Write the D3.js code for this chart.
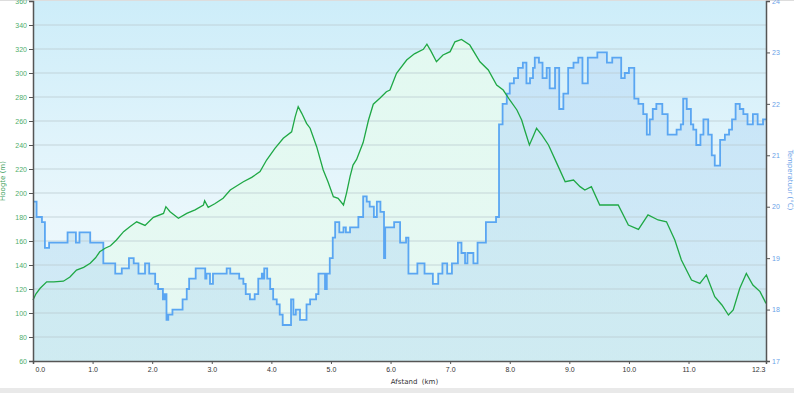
<!DOCTYPE html>
<html>
<head>
<meta charset="utf-8">
<script src="https://cdn.jsdelivr.net/npm/d3@7"></script>
<style>
  body { margin: 0; background: #ffffff; }
  svg { display: block; font-family: "DejaVu Sans", Verdana, sans-serif; }
</style>
</head>
<body>
<svg id="chart"></svg>
<script>
// afstand (km) en hoogte (m)
var elevKm = [0.0, 0.05, 0.12, 0.23, 0.35, 0.51, 0.62, 0.73, 0.85, 0.96, 1.05, 1.12, 1.21, 1.30, 1.40, 1.52, 1.63, 1.74, 1.88, 2.02,
  2.19, 2.23, 2.30, 2.44, 2.58, 2.72, 2.86, 2.88, 2.94, 3.05, 3.19, 3.31, 3.53, 3.67, 3.81, 3.92, 4.06, 4.20, 4.34, 4.40,
  4.45, 4.51, 4.59, 4.65, 4.76, 4.87, 4.95, 5.04, 5.12, 5.21, 5.26, 5.32, 5.37, 5.43, 5.54, 5.63, 5.71, 5.82, 5.93, 5.99,
  6.10, 6.27, 6.40, 6.55, 6.61, 6.68, 6.77, 6.88, 7.00, 7.08, 7.19, 7.33, 7.50, 7.64, 7.78, 7.89, 8.00, 8.12, 8.20, 8.26,
  8.33, 8.39, 8.45, 8.54, 8.65, 8.79, 8.93, 9.07, 9.18, 9.26, 9.37, 9.51, 9.65, 9.82, 9.99, 10.16, 10.32, 10.49, 10.63, 10.77,
  10.88, 11.05, 11.19, 11.30, 11.44, 11.56, 11.67, 11.75, 11.86, 11.97, 12.08, 12.20, 12.30]
var elevM = [110.8, 116, 120.6, 126, 126, 126.5, 130, 135.8, 138, 141.4, 146, 151, 154, 156, 160.8, 167.8, 172, 176, 173, 179.7,
  183, 188.6, 184.4, 178.9, 183, 186, 190, 193.6, 188, 191, 195.6, 202.5, 209.4, 213, 217.8, 227.5, 237.2, 245.6, 251, 263.6,
  272, 266.4, 258, 254, 238.6, 219.2, 209.4, 196.9, 195.6, 190, 199.7, 213.6, 223.3, 228, 242, 260.8, 274, 278.9, 284.4, 285.8,
  299.7, 310.8, 316, 319.7, 324, 318, 309.4, 315, 317.8, 326, 328, 323.3, 309.4, 302.5, 290, 285.8, 277.5, 269.2, 260.8, 251,
  240, 246.9, 253.9, 248.3, 240, 224.7, 209.4, 210.8, 205.3, 202.5, 205.3, 190, 190, 190, 173.3, 169.7, 181.7, 177.5, 176, 160.8,
  144.2, 127.5, 124.7, 131.7, 113.6, 106.7, 98.3, 102.5, 120.6, 133, 123.3, 117.8, 108]

// afstand (km) en temperatuur (°C), trapsgewijs
var tempKm = [0.00, 0.06, 0.15, 0.20, 0.27, 0.58, 0.72, 0.78, 0.96, 1.18, 1.38, 1.49, 1.61, 1.69, 1.77, 1.88, 1.95, 2.05, 2.10, 2.18,
  2.21, 2.24, 2.27, 2.34, 2.51, 2.58, 2.62, 2.73, 2.89, 2.91, 2.97, 3.02, 3.25, 3.31, 3.46, 3.53, 3.57, 3.64, 3.72, 3.78,
  3.84, 3.87, 3.88, 3.93, 3.98, 4.03, 4.09, 4.14, 4.19, 4.33, 4.37, 4.41, 4.48, 4.59, 4.65, 4.75, 4.79, 4.90, 4.93, 4.98,
  5.03, 5.07, 5.14, 5.21, 5.25, 5.32, 5.46, 5.54, 5.60, 5.65, 5.72, 5.77, 5.83, 5.89, 5.91, 6.06, 6.16, 6.26, 6.30, 6.45,
  6.57, 6.71, 6.80, 6.87, 6.95, 7.03, 7.13, 7.19, 7.25, 7.29, 7.39, 7.46, 7.60, 7.77, 7.82, 7.88, 7.95, 8.00, 8.07, 8.14,
  8.22, 8.28, 8.34, 8.39, 8.42, 8.49, 8.55, 8.62, 8.67, 8.76, 8.83, 8.90, 8.98, 9.07, 9.15, 9.22, 9.31, 9.47, 9.63, 9.72,
  9.87, 9.93, 10.00, 10.09, 10.16, 10.24, 10.30, 10.35, 10.40, 10.46, 10.56, 10.65, 10.80, 10.87, 10.91, 10.97, 11.04, 11.08, 11.13, 11.20,
  11.25, 11.33, 11.39, 11.44, 11.53, 11.61, 11.68, 11.73, 11.79, 11.86, 11.92, 11.99, 12.08, 12.16, 12.25, 12.30]
var tempC = [20.1, 19.8, 19.7, 19.2, 19.3, 19.5, 19.3, 19.5, 19.3, 18.9, 18.7, 18.8, 19.0, 18.9, 18.7, 18.9, 18.7, 18.5, 18.4, 18.2,
  18.3, 17.8, 17.9, 18.0, 18.2, 18.4, 18.6, 18.8, 18.6, 18.7, 18.5, 18.7, 18.8, 18.7, 18.6, 18.5, 18.3, 18.2, 18.3, 18.6,
  18.7, 18.6, 18.8, 18.6, 18.4, 18.2, 18.1, 17.9, 17.7, 18.2, 17.9, 18.0, 17.8, 18.1, 18.2, 18.3, 18.7, 18.4, 18.7, 19.0,
  19.4, 19.7, 19.5, 19.6, 19.5, 19.6, 19.8, 20.2, 20.1, 20.0, 19.8, 20.1, 19.9, 19.0, 19.6, 19.7, 19.3, 19.4, 18.7, 18.9,
  18.7, 18.5, 18.7, 18.9, 18.7, 18.9, 19.3, 19.1, 18.9, 19.1, 18.9, 19.3, 19.7, 19.8, 21.6, 22.0, 22.2, 22.4, 22.5, 22.7,
  22.8, 22.4, 22.5, 22.7, 22.9, 22.8, 22.5, 22.7, 22.3, 22.7, 21.9, 22.2, 22.7, 22.8, 22.9, 22.4, 22.9, 23.0, 22.8, 22.9,
  22.5, 22.6, 22.7, 22.1, 22.0, 21.8, 21.4, 21.7, 21.9, 22.0, 21.8, 21.4, 21.5, 21.6, 22.1, 21.9, 21.6, 21.5, 21.2, 21.4,
  21.7, 21.4, 21.0, 20.8, 21.3, 21.4, 21.5, 21.7, 22.0, 21.9, 21.8, 21.6, 21.8, 21.6, 21.7, 21.7]

var kmTicks = [0, 1, 2, 3, 4, 5, 6, 7, 8, 9, 10, 11, 12.3]
var elevTicks = [60, 80, 100, 120, 140, 160, 180, 200, 220, 240, 260, 280, 300, 320, 340, 360]
var tempTicks = [17, 18, 19, 20, 21, 22, 23, 24]

var dimensions = {
    width: 794,
    height: 393,
    margin: { top: 1, bottom: 32, left: 33, right: 28 }
}

var svg = d3.select("#chart")
            .attr("width", dimensions.width)
            .attr("height", dimensions.height)

var x0 = dimensions.margin.left
var x1 = dimensions.width - dimensions.margin.right
var y0 = dimensions.height - dimensions.margin.bottom
var y1 = dimensions.margin.top

var xScale = d3.scaleLinear().domain([0, 12.3]).range([x0, x1])
var yElev = d3.scaleLinear().domain([60, 360]).range([y0, y1])
var yTemp = d3.scaleLinear().domain([17, 24]).range([y0, y1])

var defs = svg.append("defs")
var bg = defs.append("linearGradient").attr("id", "bg").attr("x1", 0).attr("y1", 0).attr("x2", 0).attr("y2", 1)
bg.append("stop").attr("offset", "0%").attr("stop-color", "#cdedf9")
bg.append("stop").attr("offset", "60%").attr("stop-color", "#eaf7fc")
bg.append("stop").attr("offset", "100%").attr("stop-color", "#f3fafd")

var gFill = defs.append("linearGradient").attr("id", "gfill").attr("x1", 0).attr("y1", 0).attr("x2", 0).attr("y2", 1)
gFill.append("stop").attr("offset", "0%").attr("stop-color", "#e6fbef").attr("stop-opacity", 0.85)
gFill.append("stop").attr("offset", "100%").attr("stop-color", "#e2f8ef").attr("stop-opacity", 0.7)

var tFill = defs.append("linearGradient").attr("id", "tfill").attr("x1", 0).attr("y1", 0).attr("x2", 0).attr("y2", 1)
tFill.append("stop").attr("offset", "0%").attr("stop-color", "#c2e0f8").attr("stop-opacity", 0.75)
tFill.append("stop").attr("offset", "100%").attr("stop-color", "#bfe2f0").attr("stop-opacity", 0.6)

// rand boven en onder
svg.append("rect").attr("x", 0).attr("y", 0).attr("width", dimensions.width).attr("height", 1).attr("fill", "#dddddd")
svg.append("rect").attr("x", 0).attr("y", 388).attr("width", dimensions.width).attr("height", 5).attr("fill", "#e9e9e9")

svg.append("rect")
   .attr("x", x0).attr("y", y1)
   .attr("width", x1 - x0).attr("height", y0 - y1)
   .attr("fill", "url(#bg)")

var elevData = elevKm.map((k, i) => ({ km: k, v: elevM[i] }))
var tempData = tempKm.map((k, i) => ({ km: k, v: tempC[i] }))

var elevArea = d3.area().x(d => xScale(d.km)).y0(y0).y1(d => yElev(d.v))
var elevLine = d3.line().x(d => xScale(d.km)).y(d => yElev(d.v))
var tempArea = d3.area().x(d => xScale(d.km)).y0(y0).y1(d => yTemp(d.v)).curve(d3.curveStepAfter)
var tempLine = d3.line().x(d => xScale(d.km)).y(d => yTemp(d.v)).curve(d3.curveStepAfter)

svg.append("path").datum(elevData).attr("d", elevArea).attr("fill", "url(#gfill)")
svg.append("path").datum(tempData).attr("d", tempArea).attr("fill", "url(#tfill)")

// rasterlijnen
svg.append("g")
   .selectAll("line")
   .data(elevTicks.slice(1, -1))
   .enter()
   .append("line")
   .attr("x1", x0).attr("x2", x1)
   .attr("y1", d => yElev(d)).attr("y2", d => yElev(d))
   .attr("stroke", "#b9c9cf")
   .attr("stroke-opacity", 0.75)
   .attr("stroke-width", 1.2)

svg.append("path").datum(tempData).attr("d", tempLine)
   .attr("fill", "none").attr("stroke", "#5aa6f2").attr("stroke-width", 1.8)
svg.append("path").datum(elevData).attr("d", elevLine)
   .attr("fill", "none").attr("stroke", "#1fa845").attr("stroke-width", 1.3)

// assen
var leftAxis = d3.axisLeft(yElev).tickValues(elevTicks).tickSize(4).tickPadding(2)
var gl = svg.append("g").attr("transform", "translate(" + x0 + ",0)").call(leftAxis)
gl.select(".domain").attr("stroke", "#555").attr("stroke-width", 1.5)
gl.selectAll(".tick line").attr("stroke", "#555")
gl.selectAll("text").attr("fill", "#4fae6c").style("font-size", "7px")

var rightAxis = d3.axisRight(yTemp).tickValues(tempTicks).tickFormat(d3.format("d")).tickSize(4).tickPadding(2)
var gr = svg.append("g").attr("transform", "translate(" + x1 + ",0)").call(rightAxis)
gr.select(".domain").attr("stroke", "#555").attr("stroke-width", 1.5)
gr.selectAll(".tick line").attr("stroke", "#555")
gr.selectAll("text").attr("fill", "#6b9fe8").style("font-size", "7px")

var bottomAxis = d3.axisBottom(xScale).tickValues(kmTicks).tickFormat(d3.format(".1f")).tickSize(3).tickPadding(3)
var gb = svg.append("g").attr("transform", "translate(0," + y0 + ")").call(bottomAxis)
gb.select(".domain").attr("stroke", "#555").attr("stroke-width", 1.5)
gb.selectAll(".tick line").attr("stroke", "#555")
gb.selectAll("text").attr("fill", "#333").style("font-size", "7px")
gb.selectAll(".tick text").filter(d => d === 0).attr("text-anchor", "start").attr("dx", 2)
gb.selectAll(".tick text").filter(d => d === 12.3).attr("text-anchor", "end").attr("dx", -1)
gb.selectAll(".tick").filter(d => d === 12.3).select("line").remove()

// titels
svg.append("text")
   .attr("x", (x0 + x1) / 2 + 15)
   .attr("y", 384)
   .attr("text-anchor", "middle")
   .style("font-size", "7px")
   .attr("fill", "#333")
   .attr("xml:space", "preserve")
   .text("Afstand  (km)")

svg.append("text")
   .attr("transform", "rotate(-90)")
   .attr("x", -181)
   .attr("y", 5)
   .attr("text-anchor", "middle")
   .style("font-size", "7px")
   .attr("fill", "#3f9f60")
   .text("Hoogte (m)")

svg.append("text")
   .attr("transform", "rotate(90)")
   .attr("x", 180)
   .attr("y", -788)
   .attr("text-anchor", "middle")
   .style("font-size", "7px")
   .attr("fill", "#6b9fe8")
   .text("Temperatuur (°C)")
</script>
</body>
</html>
